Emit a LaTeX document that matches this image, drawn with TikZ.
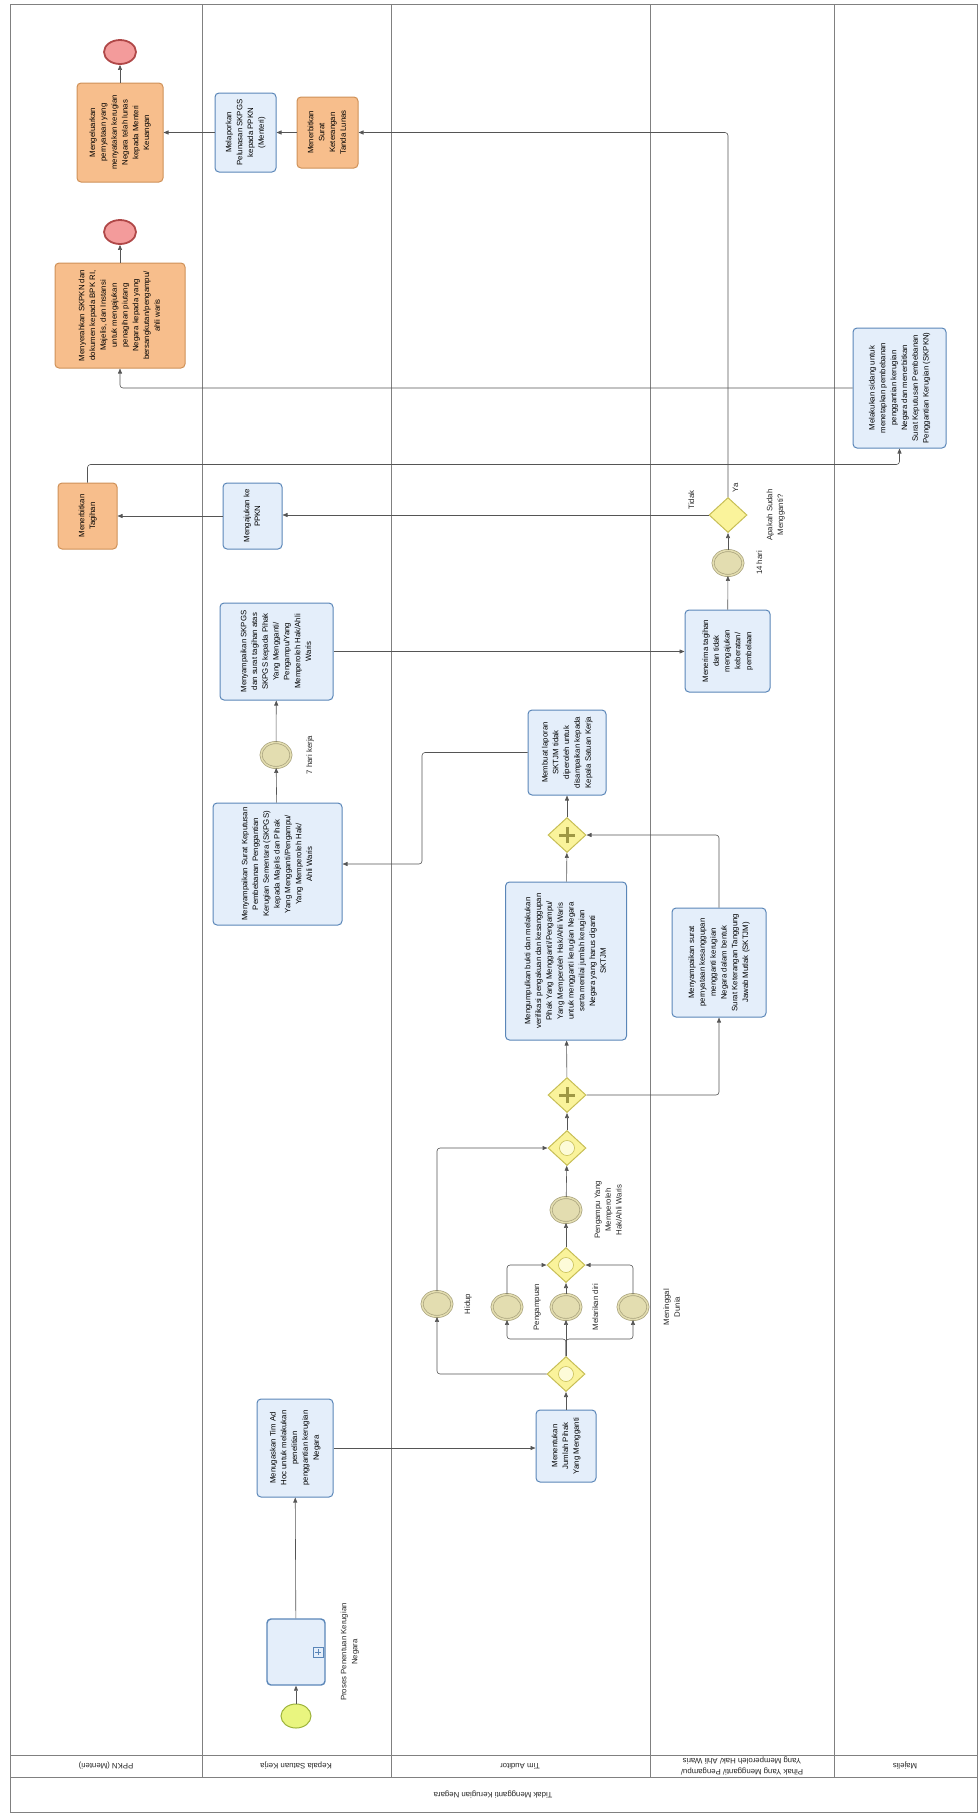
\documentclass[tikz,border=0pt]{standalone}
\usepackage{fontspec}
\setmainfont{Liberation Sans}
\usepackage{graphicx}
\usetikzlibrary{arrows.meta, positioning, shapes.geometric}

\definecolor{taskfill}{HTML}{E4EEFA}
\definecolor{taskborder}{HTML}{5A86B8}
\definecolor{ofill}{HTML}{F7BE8C}
\definecolor{oborder}{HTML}{CF9158}
\definecolor{evfill}{HTML}{E3DDB0}
\definecolor{evborder}{HTML}{A8A27C}
\definecolor{gwfill}{HTML}{FAF39B}
\definecolor{gwborder}{HTML}{C7BE55}
\definecolor{gwinner}{HTML}{FDFBD8}
\definecolor{startfill}{HTML}{E9F57F}
\definecolor{startborder}{HTML}{9DB33B}
\definecolor{endfill}{HTML}{F39B9B}
\definecolor{endborder}{HTML}{B04848}
\definecolor{linegray}{HTML}{555555}
\definecolor{lanegray}{HTML}{808080}

\newcommand{\tfont}{\fontsize{7.8}{10.8}\selectfont}
\newcommand{\vtext}[1]{\rotatebox{90}{\begin{tabular}{@{}c@{}}#1\end{tabular}}}
\newcommand{\utext}[1]{\rotatebox{180}{\begin{tabular}{@{}c@{}}#1\end{tabular}}}

\begin{document}
\begin{tikzpicture}[x=1pt, y=-1pt,
    % Styles
    flow/.style={draw=linegray, line width=0.6pt, rounded corners=3pt, -{Triangle[length=5pt, width=4pt]}},
    lane/.style={draw=lanegray, line width=0.8pt},
    task/.style={rectangle, rounded corners=4pt, draw=taskborder, fill=taskfill, line width=1pt, inner sep=0pt, font=\tfont, text=black},
    otask/.style={task, draw=oborder, fill=ofill},
    subproc/.style={task, line width=1.4pt, path picture={
        \draw[taskborder, line width=0.8pt, sharp corners] ([xshift=-12pt, yshift=-5pt]path picture bounding box.east) rectangle ([xshift=-2pt, yshift=5pt]path picture bounding box.east);
        \draw[taskborder, line width=0.8pt, sharp corners] ([xshift=-10pt]path picture bounding box.east) -- ([xshift=-4pt]path picture bounding box.east)
            ([xshift=-7pt, yshift=-3pt]path picture bounding box.east) -- ([xshift=-7pt, yshift=3pt]path picture bounding box.east);}},
    startev/.style={ellipse, draw=startborder, fill=startfill, line width=1pt, minimum width=30pt, minimum height=24pt, inner sep=0pt},
    endev/.style={ellipse, draw=endborder, fill=endfill, line width=1.8pt, minimum width=32pt, minimum height=24pt, inner sep=0pt},
    midev/.style={ellipse, draw=evborder, fill=evfill, double=evfill, double distance=1.5pt, line width=0.7pt, minimum width=30pt, minimum height=25pt, inner sep=0pt},
    gate/.style={diamond, draw=gwborder, fill=gwfill, line width=1pt, minimum width=38pt, minimum height=35pt, inner sep=0pt},
    orgate/.style={gate, path picture={\draw[gwborder, fill=gwinner, line width=0.6pt] (path picture bounding box.center) circle (7.5pt);}},
    andgate/.style={gate, path picture={\draw[gwborder!80!black, line width=3pt]
        ([xshift=-8pt]path picture bounding box.center) -- ([xshift=8pt]path picture bounding box.center)
        ([yshift=-8pt]path picture bounding box.center) -- ([yshift=8pt]path picture bounding box.center);}},
    lbl/.style={font=\tfont, inner sep=1pt, text=black!85},
]
    \useasboundingbox (0,0) rectangle (980,1813);

    % Pool and lanes
    \draw[lane] (10,4) rectangle (977,1812);
    \draw[lane] (10,1755) -- (977,1755);
    \draw[lane] (10,1777) -- (977,1777);
    \foreach \lx in {202, 391, 650, 834}
        \draw[lane] (\lx,4) -- (\lx,1777);

    % Lane labels (upside down)
    \node[lbl] (lanepkn) at (106,1766) {\utext{PPKN (Menteri)}};
    \node[lbl] (laneksk) at (296,1766) {\utext{Kepala Satuan Kerja}};
    \node[lbl] (laneaud) at (520,1766) {\utext{Tim Auditor}};
    \node[lbl] (lanepih) at (742,1766) {\utext{Pihak Yang Mengganti/ Pengampu/\\Yang Memperoleh Hak/ Ahli Waris}};
    \node[lbl] (lanemaj) at (905,1766) {\utext{Majelis}};
    \node[lbl] (poollbl) at (493,1795) {\utext{Tidak Mengganti Kerugian Negara}};

    % Kepala Satuan Kerja - start
    \node[startev] (start) at (296,1716) {};
    \node[subproc, minimum width=58pt, minimum height=66pt] (sub) at (296,1652) {};
    \node[lbl, right=12pt of sub] (sublbl) {\vtext{Proses Penentuan Kerugian\\Negara}};
    \node[task, minimum width=76pt, minimum height=98pt] (tugas) at (295,1448)
        {\vtext{Menugaskan Tim Ad\\Hoc untuk melakukan\\penelitian\\penggantian kerugian\\Negara}};

    % Tim Auditor
    \node[task, minimum width=60pt, minimum height=72pt] (tentukan) at (566,1446)
        {\vtext{Menentukan\\Jumlah Pihak\\Yang Mengganti}};
    \node[orgate] (g1) at (566,1374) {};
    \node[midev] (ehidup) at (437,1304) {};
    \node[midev] (eampu) at (507,1307) {};
    \node[midev] (elari) at (566,1307) {};
    \node[midev] (emati) at (633,1307) {};
    \node[lbl, right=9pt of ehidup] (lhidup) {\vtext{Hidup}};
    \node[lbl, right=8pt of eampu] (lampu) {\vtext{Pengampuan}};
    \node[lbl, right=8pt of elari] (llari) {\vtext{Melarikan diri}};
    \node[lbl, right=12pt of emati] (lmati) {\vtext{Meninggal\\Dunia}};
    \node[orgate] (g2) at (566,1265) {};
    \node[midev] (ewaris) at (566,1210) {};
    \node[lbl, right=10pt of ewaris] (lwaris) {\vtext{Pengampu Yang\\Memperoleh\\Hak/Ahli Waris}};
    \node[orgate] (g3) at (567,1148) {};
    \node[andgate] (p1) at (567,1095) {};
    \node[task, minimum width=121pt, minimum height=158pt] (tmain) at (566,961)
        {\vtext{Mengumpulkan bukti dan melakukan\\verifikasi pengakuan dan kesanggupan\\Pihak Yang Mengganti/Pengampu/\\Yang Memperoleh Hak/Ahli Waris\\untuk mengganti kerugian Negara\\serta menilai jumlah kerugian\\Negara yang harus diganti\\SKTJM}};
    \node[andgate] (p2) at (567,835) {};
    \node[task, minimum width=78pt, minimum height=85pt] (tlapor) at (567,752.5)
        {\vtext{Membuat laporan\\SKTJM tidak\\diperoleh untuk\\disampaikan kepada\\Kepala Satuan Kerja}};
    \coordinate (bendA) at (422,800);

    % Pihak Yang Mengganti
    \node[task, minimum width=94pt, minimum height=109pt] (tsurat) at (719,962.5)
        {\vtext{Menyampaikan surat\\pernyataan kesanggupan\\mengganti kerugian\\Negara dalam bentuk\\Surat Keterangan Tanggung\\Jawab Mutlak (SKTJM)}};

    % Kepala Satuan Kerja - SKPGS
    \node[task, minimum width=129pt, minimum height=122pt] (tskpgs) at (277.5,864)
        {\vtext{Menyampaikan Surat Keputusan\\Pembebanan Penggantian\\Kerugian Sementara (SKPGS)\\kepada Majelis dan Pihak\\Yang Mengganti/Pengampu/\\Yang Memperoleh Hak/\\Ahli Waris}};
    \node[midev] (e7) at (276,755) {};
    \node[lbl, right=12pt of e7] (l7) {\vtext{7 hari kerja}};
    \node[task, minimum width=113pt, minimum height=97pt] (tserah) at (276.5,651.5)
        {\vtext{Menyampaikan SKPGS\\dan surat tagihan atas\\SKPGS kepada Pihak\\Yang Mengganti/\\Pengampu/Yang\\Memperoleh Hak/Ahli\\Waris}};

    % Pihak Yang Mengganti - tanggapan
    \node[task, minimum width=85pt, minimum height=82pt] (tterima) at (727.5,651)
        {\vtext{Menerima tagihan\\dan tidak\\mengajukan\\keberatan/\\pembelaan}};
    \node[midev] (e14) at (728,563) {};
    \node[lbl, right=10pt of e14] (l14) {\vtext{14 hari}};
    \node[gate] (gapa) at (728,515) {};
    \node[lbl, right=16pt of gapa] (lapa) {\vtext{Apakah Sudah\\Mengganti?}};
    \node[lbl] (lya) at (736,488) {\vtext{Ya}};
    \node[lbl] (ltidak) at (692,500) {\vtext{Tidak}};

    % Tidak: ke PPKN dan Majelis
    \node[task, minimum width=59pt, minimum height=66pt] (tajukan) at (252.5,516)
        {\vtext{Mengajukan ke\\PPKN}};
    \node[otask, minimum width=59pt, minimum height=66pt] (ttagih) at (87.5,516)
        {\vtext{Menerbitkan\\Tagihan}};
    \node[task, minimum width=93pt, minimum height=120pt] (tmajelis) at (899.5,388)
        {\vtext{Melakukan sidang untuk\\menetapkan pembebanan\\penggantian kerugian\\Negara dan menerbitkan\\Surat Keputusan Pembebanan\\Penggantian Kerugian (SKPKN)}};
    \node[otask, minimum width=130pt, minimum height=105pt] (tpkn2) at (120,315.5)
        {\vtext{Menyerahkan SKPKN dan\\dokumen kepada BPK RI,\\Majelis, dan Instansi\\untuk mengajukan\\penagihan piutang\\Negara kepada yang\\bersangkutan/pengampu/\\ahli waris}};
    \node[endev] (end2) at (120,232) {};

    % Ya: pelunasan
    \node[otask, minimum width=61pt, minimum height=71pt] (tlunas) at (327.5,132.5)
        {\vtext{Menerbitkan\\Surat\\Keterangan\\Tanda Lunas}};
    \node[task, minimum width=61pt, minimum height=79pt] (tlapor2) at (245.5,132.5)
        {\vtext{Melaporkan\\Pelunasan SKPGS\\kepada PPKN\\(Menteri)}};
    \node[otask, minimum width=86pt, minimum height=99pt] (tpkn1) at (120,132.5)
        {\vtext{Mengeluarkan\\pernyataan yang\\menyatakan kerugian\\Negara telah lunas\\kepada Menteri\\Keuangan}};
    \node[endev] (end1) at (120,52) {};

    % Sequence flows
    \draw[flow] (start) -- (sub);
    \draw[flow] (sub) -- (tugas);
    \draw[flow] (tugas.east) -- (tentukan.west |- tugas.east);
    \draw[flow] (tentukan) -- (g1);
    \draw[flow] (g1.west) -| (ehidup.south);
    \draw[flow] (g1.north) -- ++(0,-17) -| (eampu.south);
    \draw[flow] (g1.north) -- (elari.south);
    \draw[flow] (g1.north) -- ++(0,-17) -| (emati.south);
    \draw[flow] (eampu.north) |- (g2.west);
    \draw[flow] (elari.north) -- (g2.south);
    \draw[flow] (emati.north) |- (g2.east);
    \draw[flow] (g2) -- (ewaris);
    \draw[flow] (ewaris) -- (g3);
    \draw[flow] (ehidup.north) |- (g3.west);
    \draw[flow] (g3) -- (p1);
    \draw[flow] (p1) -- (tmain);
    \draw[flow] (p1.east) -| (tsurat.south);
    \draw[flow] (tmain) -- (p2);
    \draw[flow] (tsurat.north) |- (p2.east);
    \draw[flow] (p2) -- (tlapor);
    \draw[flow] (tlapor.west) -| (bendA) |- (tskpgs.east);
    \draw[flow] (tskpgs) -- (e7);
    \draw[flow] (e7) -- (tserah);
    \draw[flow] (tserah.east) -- (tterima.west |- tserah.east);
    \draw[flow] (tterima) -- (e14);
    \draw[flow] (e14) -- (gapa);
    \draw[flow] (gapa.west) -- (tajukan.east |- gapa.west);
    \draw[flow] (tajukan) -- (ttagih);
    \draw[flow] (ttagih.north) -- ++(0,-18) -| (tmajelis.south);
    \draw[flow] (tmajelis.west) -| (tpkn2.south);
    \draw[flow] (tpkn2) -- (end2);
    \draw[flow] (gapa.north) |- (tlunas.east);
    \draw[flow] (tlunas) -- (tlapor2);
    \draw[flow] (tlapor2) -- (tpkn1);
    \draw[flow] (tpkn1) -- (end1);
\end{tikzpicture}
\end{document}
